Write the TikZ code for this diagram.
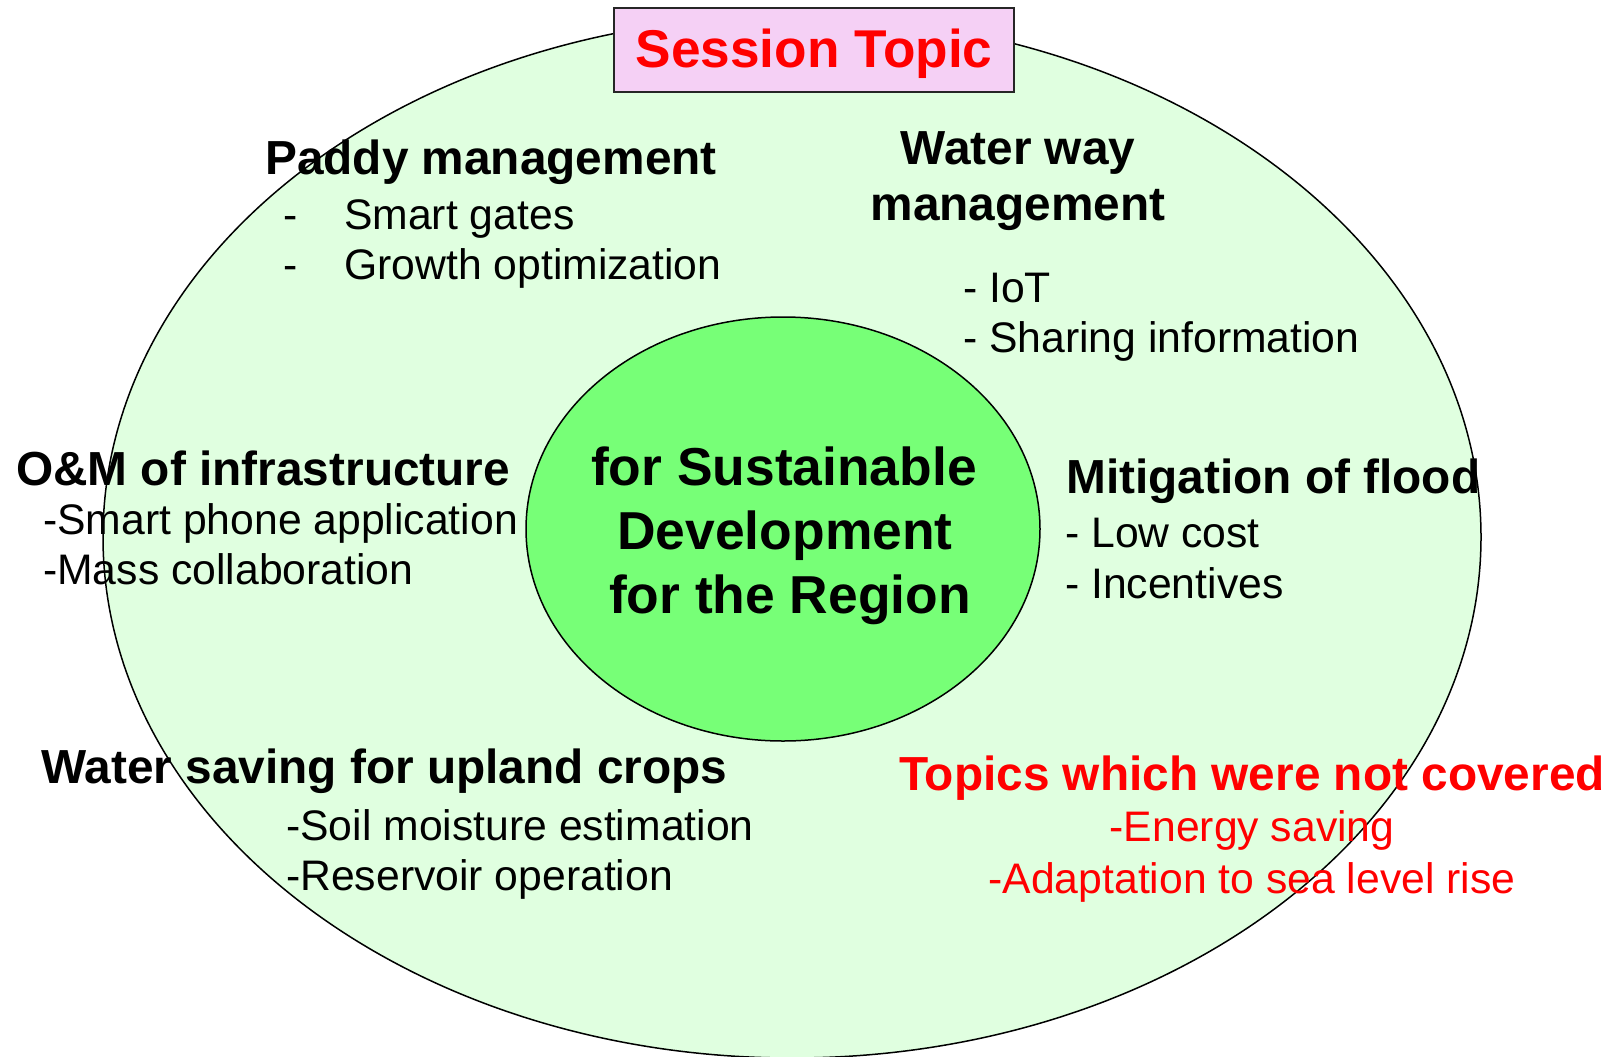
\documentclass[tikz,border=0pt]{standalone}
\usepackage{fontspec}
\setmainfont{Liberation Sans}
\usetikzlibrary{shapes.geometric}
\definecolor{pale}{RGB}{224,255,224}
\definecolor{lime}{RGB}{119,255,119}
\definecolor{pinkbox}{RGB}{245,208,245}
\definecolor{alert}{RGB}{255,0,0}
\tikzset{
  head/.style={font=\fontsize{47.8}{57}\selectfont\bfseries,inner sep=0pt,anchor=base west},
  item/.style={font=\fontsize{42.7}{50}\selectfont,inner sep=0pt,anchor=base west},
  core/.style={font=\fontsize{53.4}{62}\selectfont\bfseries,inner sep=0pt,anchor=base},
}
\begin{document}
\begin{tikzpicture}[x=1pt,y=-1pt]
\useasboundingbox (0,0) rectangle (1614,1057);
% outer and inner ellipses
\draw[line width=1.5pt,fill=pale] (792,537) ellipse [x radius=689pt,y radius=521pt];
\node[ellipse,draw,line width=1.5pt,fill=lime,minimum width=514pt,minimum height=424pt,inner sep=0pt] (hub) at (783,529) {};
% title box
\node[draw=black!85,line width=2pt,fill=pinkbox,minimum width=400pt,minimum height=84pt,
  inner sep=0pt,text height=40pt,text depth=6pt,text=alert,
  font=\fontsize{53.2}{62}\selectfont\bfseries] (title) at (814,50) {Session Topic};
% centre text
\node[core] (sust) at (784,485) {for Sustainable};
\node[core] (dev) at (785,549) {Development};
\node[core] (reg) at (790,613) {for the Region};
% paddy management
\node[head] (paddy) at (265,174) {Paddy management};
\node[item] (gates) at (283,229) {\makebox[61pt][l]{-}Smart gates};
\node[item] (growth) at (283,279) {\makebox[61pt][l]{-}Growth optimization};
% water way management
\node[head,anchor=base] (way) at (1018,164) {Water way};
\node[head,anchor=base] (waymgmt) at (1018,220) {management};
\node[item] (iot) at (963,302) {- IoT};
\node[item] (share) at (963,352) {- Sharing information};
% O&M
\node[head] (om) at (16,485) {O\&M of infrastructure};
\node[item] (phone) at (43,534) {-Smart phone application};
\node[item] (mass) at (43,584) {-Mass collaboration};
% flood
\node[head] (flood) at (1066,493) {Mitigation of flood};
\node[item] (cost) at (1065,547) {- Low cost};
\node[item] (incent) at (1065,598) {- Incentives};
% upland crops
\node[head] (upland) at (41,783) {Water saving for upland crops};
\node[item] (soil) at (286,840) {-Soil moisture estimation};
\node[item] (resv) at (286,890) {-Reservoir operation};
% not covered
\node[head,anchor=base,text=alert] (uncov) at (1252,790) {Topics which were not covered};
\node[item,anchor=base,text=alert] (energy) at (1252,841) {-Energy saving};
\node[item,anchor=base,text=alert] (adapt) at (1252,893) {-Adaptation to sea level rise};
\end{tikzpicture}
\end{document}
